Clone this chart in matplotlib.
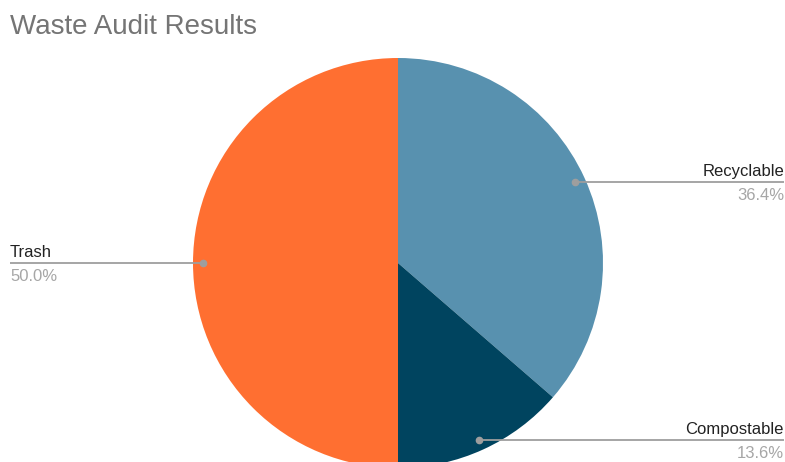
import numpy as np
import matplotlib as mpl
mpl.use('Agg')
import matplotlib.pyplot as plt

labels = ['Recyclable', 'Compostable', 'Trash']
counts = [8, 3, 11]
colors = ['#5891af', '#00445f', '#ff6f31']

plt.rcParams['font.family'] = ['Liberation Sans', 'DejaVu Sans']

W, H = 785, 462
fig = plt.figure(figsize=(W / 100, H / 100), dpi=100)
ax = fig.add_axes([0, 0, 1, 1])
ax.set_xlim(0, W)
ax.set_ylim(0, H)
ax.axis('off')

cx, cy, r = 398, H - 263, 205
wedges, _ = ax.pie(counts, colors=colors, startangle=90, counterclock=False,
                   center=(cx, cy), radius=r, frame=True)
ax.set_xlim(0, W)
ax.set_ylim(0, H)
ax.axis('off')

total = sum(counts)
# label side and where the leader line ends
sides = {'Recyclable': 'right', 'Compostable': 'right', 'Trash': 'left'}
for w, lab, n in zip(wedges, labels, counts):
    mid = np.deg2rad((w.theta1 + w.theta2) / 2)
    px = cx + 0.95 * r * np.cos(mid)
    py = cy + 0.95 * r * np.sin(mid)
    if sides[lab] == 'right':
        xe, ha = 784, 'right'
    else:
        xe, ha = 10, 'left'
    ax.plot([px, xe], [py, py], color='#9e9e9e', lw=1.3, solid_capstyle='butt')
    ax.plot(px, py, 'o', color='#9e9e9e', ms=4.5)
    ax.text(xe, py + 6, lab, ha=ha, va='baseline', fontsize=12, color='#222222')
    ax.text(xe, py - 6, '%.1f%%' % (100 * n / total), ha=ha, va='top',
            fontsize=12, color='#a6a6a6')

fig.text(10 / W, 1 - 34 / H, 'Waste Audit Results', fontsize=20, color='#757575',
         ha='left', va='baseline')

fig.savefig('out.png', dpi=100)
